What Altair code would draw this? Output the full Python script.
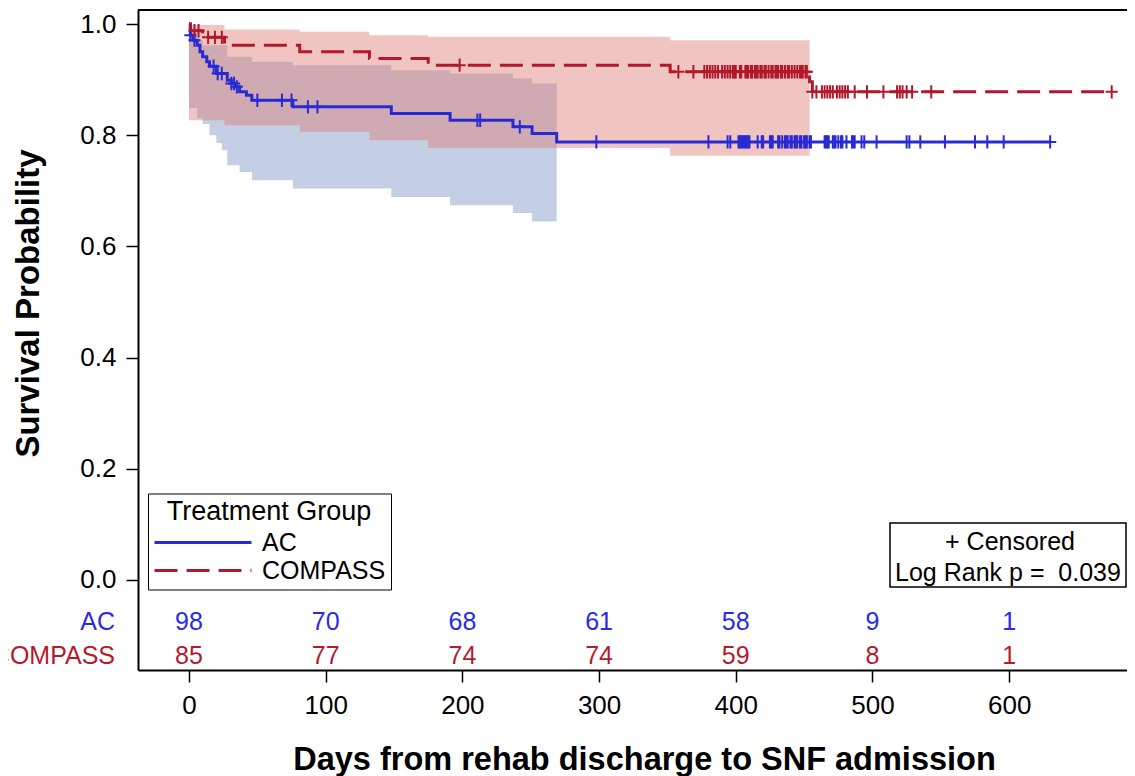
import altair as alt
import pandas as pd

FONT = "Liberation Sans"
BLUE = "#2a2ad4"
RED = "#b2182b"
BLUE_TXT = "#2a2ae6"
RED_TXT = "#b51a2e"

groups = ["AC", "COMPASS"]

# Kaplan-Meier steps (time in days, survival probability)
ac_t = [0, 1, 3, 6, 8, 10, 13, 15, 20, 28, 31, 34, 37, 42, 46, 76, 148, 191, 237, 251, 269, 630]
ac_s = [1.0, 0.980, 0.971, 0.962, 0.950, 0.941, 0.932, 0.924, 0.911, 0.899, 0.893, 0.887,
        0.878, 0.872, 0.863, 0.851, 0.839, 0.827, 0.815, 0.803, 0.788, 0.788]
cp_t = [0, 1, 10, 26, 81, 132, 175, 352, 454, 456, 675]
cp_s = [1.0, 0.988, 0.976, 0.962, 0.950, 0.938, 0.926, 0.914, 0.896, 0.878, 0.878]

# Confidence bands
ac_band_t = [0, 6, 10, 15, 20, 24, 28, 37, 46, 76, 148, 191, 237, 251, 269]
ac_band_hi = [0.984, 0.971, 0.962, 0.962, 0.962, 0.962, 0.941, 0.941, 0.932, 0.926, 0.917,
              0.911, 0.902, 0.893, 0.893]
ac_band_lo = [0.849, 0.830, 0.820, 0.800, 0.786, 0.773, 0.746, 0.734, 0.719, 0.704, 0.689,
              0.674, 0.660, 0.645, 0.645]
cp_band_t = [0, 26, 81, 132, 175, 352, 454]
cp_band_hi = [0.998, 0.990, 0.986, 0.980, 0.977, 0.971, 0.971]
cp_band_lo = [0.827, 0.818, 0.806, 0.791, 0.777, 0.763, 0.763]

# Censoring times
ac_cens = [1, 4, 18, 21, 24, 31, 33, 35, 50, 68, 75, 87, 94, 211, 213, 242, 298, 380, 394, 396,
           402, 403, 404, 405, 406, 407, 408, 409, 410, 416, 419, 420, 425, 426, 427, 431, 432,
           434, 436, 437, 438, 440, 441, 443, 444, 445, 447, 448, 450, 451, 452, 454, 455, 465,
           466, 467, 468, 471, 472, 473, 475, 477, 478, 481, 485, 486, 487, 492, 494, 503, 525,
           527, 535, 553, 575, 584, 596, 630]
cp_cens = [4, 7, 14, 19, 24, 198, 358, 369, 377, 379, 381, 383, 385, 387, 390, 392, 394, 396,
           398, 399, 400, 403, 404, 407, 408, 409, 411, 412, 414, 415, 416, 418, 419, 421, 422,
           424, 426, 427, 429, 430, 431, 433, 434, 436, 438, 439, 441, 443, 445, 447, 448, 449,
           451, 452, 456, 459, 463, 465, 467, 469, 471, 474, 476, 478, 480, 482, 487, 496, 508,
           518, 520, 522, 525, 529, 543, 675]

# Number at risk
risk_t = [0, 100, 200, 300, 400, 500, 600]
ac_risk = [98, 70, 68, 61, 58, 9, 1]
cp_risk = [85, 77, 74, 74, 59, 8, 1]

x_ticks = [0, 100, 200, 300, 400, 500, 600]
y_ticks = [0.0, 0.2, 0.4, 0.6, 0.8, 1.0]


def step_value(ts, ss, t):
    v = ss[0]
    for ti, si in zip(ts, ss):
        if ti <= t:
            v = si
    return v


km = pd.DataFrame(
    [{"t": t, "s": s, "group": "AC"} for t, s in zip(ac_t, ac_s)]
    + [{"t": t, "s": s, "group": "COMPASS"} for t, s in zip(cp_t, cp_s)]
)
ac_band = pd.DataFrame({"t": ac_band_t, "lo": ac_band_lo, "hi": ac_band_hi})
cp_band = pd.DataFrame({"t": cp_band_t, "lo": cp_band_lo, "hi": cp_band_hi})
ac_c = pd.DataFrame({"t": ac_cens, "s": [step_value(ac_t, ac_s, t) for t in ac_cens]})
cp_c = pd.DataFrame({"t": cp_cens, "s": [step_value(cp_t, cp_s, t) for t in cp_cens]})
ac_r = pd.DataFrame({"t": risk_t, "n": ac_risk})
cp_r = pd.DataFrame({"t": risk_t, "n": cp_risk})

# plot area: 989 px wide for 723.5 days (1.367 px/day), 660 px tall
xscale = alt.Scale(domain=[-37.3, 686.2], nice=False, zero=False)
yscale = alt.Scale(domain=[-0.1619, 1.0252], nice=False, zero=False)

X = alt.X(
    "t:Q", scale=xscale,
    axis=alt.Axis(
        values=x_ticks, format="d", title="Days from rehab discharge to SNF admission",
        titleX=506, titleY=99, titleBaseline="alphabetic", titleAlign="center",
        titleFontSize=32.5, titleFontWeight="bold", labelFontSize=26, tickSize=12,
        labelPadding=10, grid=False, domain=True, domainColor="black", domainWidth=2,
        tickColor="black", tickWidth=1.5,
        labelColor="black", titleColor="black", labelFont=FONT, titleFont=FONT,
    ),
)
Y_axis = alt.Axis(
    values=y_ticks, format=".1f", title="Survival Probability",
    titleX=-100, titleY=293, titleAngle=270, titleBaseline="alphabetic", titleAlign="center",
    titleFontSize=33, titleFontWeight="bold", labelFontSize=26, tickSize=12,
    labelPadding=10, grid=False, domain=True, domainColor="black", domainWidth=2,
    tickColor="black", tickWidth=1.5,
    labelColor="black", titleColor="black", labelFont=FONT, titleFont=FONT,
)

ac_area = alt.Chart(ac_band).mark_area(interpolate="step-after", color="#c4cfe6").encode(
    x=X, y=alt.Y("lo:Q", scale=yscale, axis=Y_axis), y2="hi:Q"
)
cp_area = alt.Chart(cp_band).mark_area(interpolate="step-after", color="#de7c73", opacity=0.45).encode(
    x="t:Q", y="lo:Q", y2="hi:Q"
)

legend = alt.Legend(
    title="Treatment Group", orient="none", legendX=10, legendY=483.5, direction="vertical",
    columns=1, symbolType="stroke", symbolSize=9409, symbolStrokeWidth=3, clipHeight=28,
    labelFontSize=25, labelFont=FONT, labelColor="black", titleFontSize=27, titleFont=FONT,
    titleFontWeight="normal", titleColor="black", titleAnchor="middle", titlePadding=3,
    titleLimit=400, labelLimit=300,
    strokeColor="black", fillColor="white", padding=5, labelOffset=9, rowPadding=0,
)

lines = alt.Chart(km).mark_line(interpolate="step-after", strokeWidth=3).encode(
    x="t:Q", y="s:Q",
    color=alt.Color("group:N", scale=alt.Scale(domain=groups, range=[BLUE, RED]), legend=legend),
    strokeDash=alt.StrokeDash("group:N", scale=alt.Scale(domain=groups, range=[[1, 0], [23, 9]]), legend=legend),
)

plus = "M0,-1L0,1M-0.9,0L0.9,0"
ac_marks = alt.Chart(ac_c).mark_point(shape=plus, size=180, strokeWidth=2, color=BLUE, opacity=1).encode(
    x="t:Q", y="s:Q"
)
cp_marks = alt.Chart(cp_c).mark_point(shape=plus, size=180, strokeWidth=2, color=RED, opacity=1).encode(
    x="t:Q", y="s:Q"
)

ac_txt = alt.Chart(ac_r).mark_text(fontSize=25, font=FONT, color=BLUE_TXT, baseline="middle").encode(
    x="t:Q", y=alt.value(612), text="n:Q"
)
cp_txt = alt.Chart(cp_r).mark_text(fontSize=25, font=FONT, color=RED_TXT, baseline="middle").encode(
    x="t:Q", y=alt.value(646), text="n:Q"
)

one = alt.Data(values=[{}])
ac_lbl = alt.Chart(one).mark_text(
    fontSize=25, font=FONT, align="right", baseline="middle", color=BLUE_TXT
).encode(x=alt.value(-23), y=alt.value(612), text=alt.value(groups[0]))
cp_lbl = alt.Chart(one).mark_text(
    fontSize=25, font=FONT, align="right", baseline="middle", color=RED_TXT
).encode(x=alt.value(-23), y=alt.value(646), text=alt.value(groups[1]))

top_border = alt.Chart(one).mark_rule(color="black", strokeWidth=2).encode(
    x=alt.value(0), x2=alt.value(989), y=alt.value(0)
)

box = alt.Chart(one).mark_rect(fill="white", stroke="black", strokeWidth=1.5).encode(
    x=alt.value(752), x2=alt.value(988), y=alt.value(513), y2=alt.value(577)
)
box_t1 = alt.Chart(one).mark_text(
    fontSize=25, font=FONT, color="black", baseline="middle", align="center"
).encode(x=alt.value(872), y=alt.value(532), text=alt.value("+ Censored"))
box_t2 = alt.Chart(one).mark_text(
    fontSize=25, font=FONT, color="black", baseline="middle", align="center"
).encode(x=alt.value(870), y=alt.value(563), text=alt.value("Log Rank p =\u00a0 0.039"))

chart = alt.layer(
    ac_area, cp_area, lines, ac_marks, cp_marks, ac_txt, cp_txt, ac_lbl, cp_lbl,
    top_border, box, box_t1, box_t2
).properties(
    width=989, height=660,
    padding={"left": 130, "top": 2, "right": 0, "bottom": 106},
    autosize=alt.AutoSizeParams(type="none"),
).configure(
    font=FONT
).configure_view(
    strokeWidth=0
)

chart.save("out.html", embed_options={"renderer": "svg", "actions": False})
